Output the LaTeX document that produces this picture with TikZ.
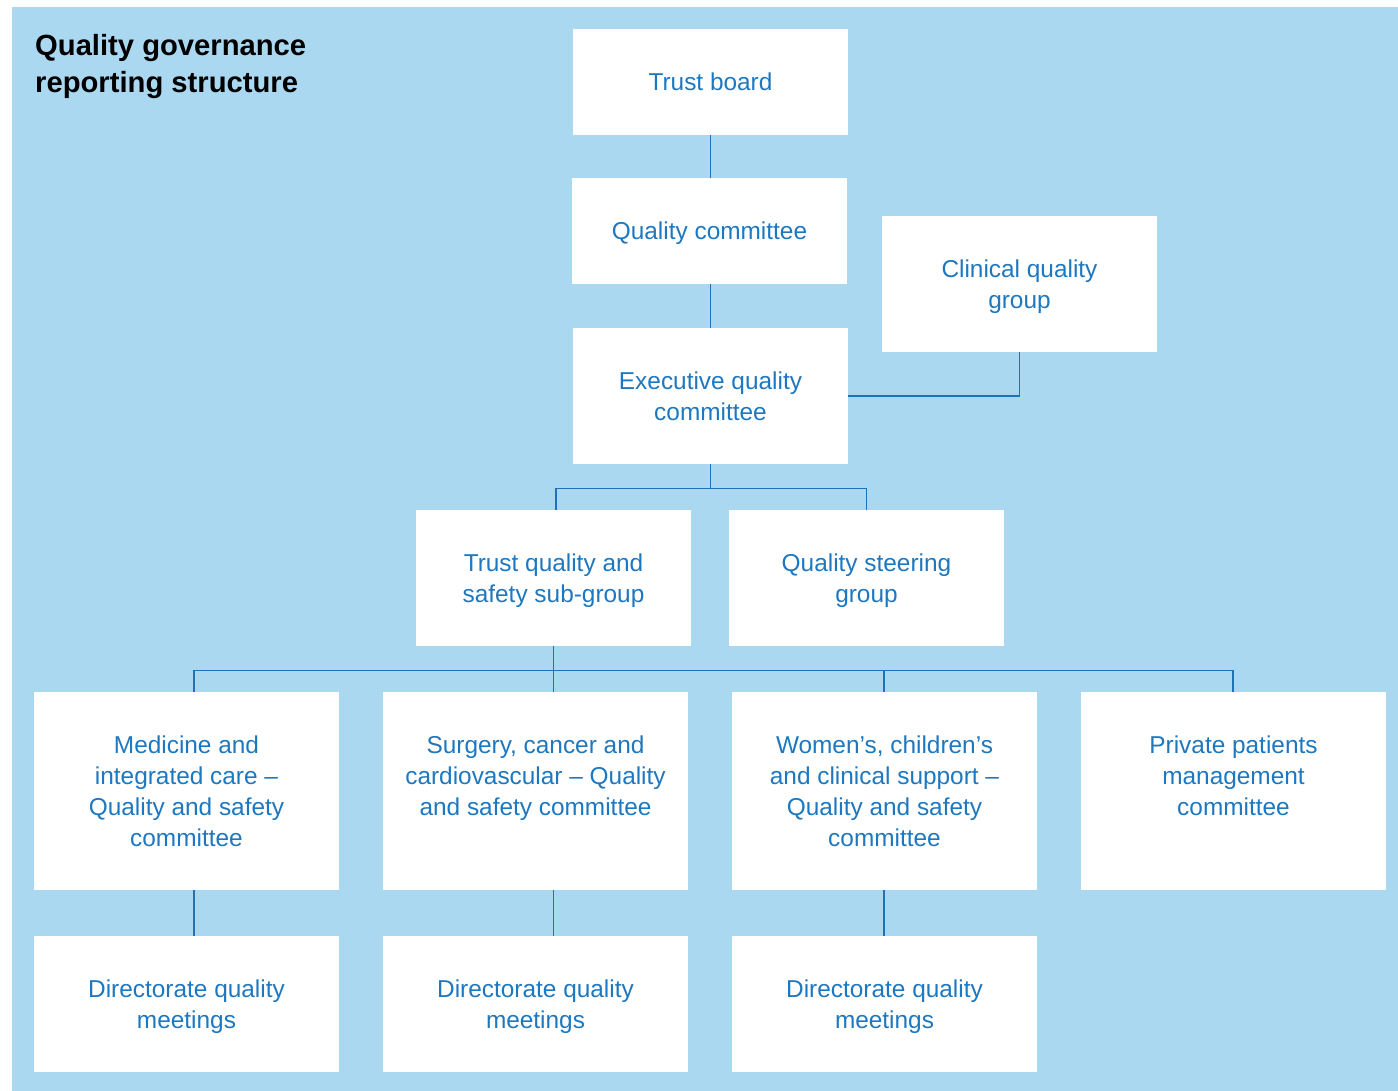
\documentclass[tikz,border=0pt]{standalone}
\usepackage{fontspec}
\setmainfont{Liberation Sans}
\usetikzlibrary{calc}
\definecolor{bgblue}{HTML}{ABD8F1}
\definecolor{txtblue}{HTML}{1E78C0}
\definecolor{lineblue}{HTML}{1F72BA}
\tikzset{
  box/.style={fill=white, draw=none, inner sep=0pt, align=center, text=txtblue,
    text depth=0pt, font=\fontsize{24.4}{31}\selectfont},
  conn/.style={draw=lineblue, line width=1.3pt},
}
\begin{document}
\begin{tikzpicture}[x=1pt,y=-1pt]
\useasboundingbox (0,0) rectangle (1398,1091);
\fill[bgblue] (12,7) rectangle (1398,1091);
\node[anchor=north west, inner sep=0pt, align=left, font=\bfseries\fontsize{29.2}{37}\selectfont] (title) at (35,34) {Quality governance\\reporting structure};

% top column
\node[box, minimum width=275pt, minimum height=106pt] (tb) at (710.5,82) {Trust board};
\node[box, minimum width=275pt, minimum height=106pt] (qc) at (709.5,231) {Quality committee};
\node[box, minimum width=275pt, minimum height=136pt] (cqg) at (1019.5,284) {Clinical quality\\group};
\node[box, minimum width=275pt, minimum height=136pt] (eqc) at (710.5,396) {Executive quality\\committee};

% sub-groups
\node[box, minimum width=275pt, minimum height=136pt] (tqs) at (553.5,578) {Trust quality and\\safety sub-group};
\node[box, minimum width=275pt, minimum height=136pt] (qsg) at (866.5,578) {Quality steering\\group};

% row 3
\node[box, minimum width=305pt, minimum height=198pt] (m1) at (186.5,791) {Medicine and\\integrated care --\\Quality and safety\\committee};
\node[box, minimum width=305pt, minimum height=198pt] (m2) at (535.5,791) {Surgery, cancer and\\cardiovascular -- Quality\\and safety committee\\\mbox{}};
\node[box, minimum width=305pt, minimum height=198pt] (m3) at (884.5,791) {Women’s, children’s\\and clinical support --\\Quality and safety\\committee};
\node[box, minimum width=305pt, minimum height=198pt] (m4) at (1233.5,791) {Private patients\\management\\committee\\\mbox{}};

% row 4
\node[box, minimum width=305pt, minimum height=136pt] (d1) at (186.5,1004) {Directorate quality\\meetings};
\node[box, minimum width=305pt, minimum height=136pt] (d2) at (535.5,1004) {Directorate quality\\meetings};
\node[box, minimum width=305pt, minimum height=136pt] (d3) at (884.5,1004) {Directorate quality\\meetings};

% connectors
\draw[conn] (tb.south) -- (qc.north -| tb.south);
\draw[conn] (qc.south -| tb.south) -- (eqc.north);
\draw[conn] (cqg.south) |- (eqc.east);
\draw[conn] (eqc.south) -- ++(0,24) coordinate (j1);
\draw[conn] ($(tqs.north)+(2.5,0)$) |- (j1) -| (qsg.north);
\draw[conn] (tqs.south) -- ++(0,24) coordinate (j2);
\coordinate (c1) at ($(m1.north)+(7.5,0)$);
\coordinate (c2) at ($(m2.north)+(18,0)$);
\coordinate (c3) at ($(m3.north)+(-0.5,0)$);
\coordinate (c4) at ($(m4.north)+(-0.5,0)$);
\draw[conn] (c1) |- (j2) -| (c4);
\draw[conn] (j2) -- (c2);
\draw[conn] (c3) -- (c3 |- j2);
\draw[conn] (c1 |- m1.south) -- (c1 |- d1.north);
\draw[conn] (c2 |- m2.south) -- (c2 |- d2.north);
\draw[conn] (c3 |- m3.south) -- (c3 |- d3.north);
\end{tikzpicture}
\end{document}
